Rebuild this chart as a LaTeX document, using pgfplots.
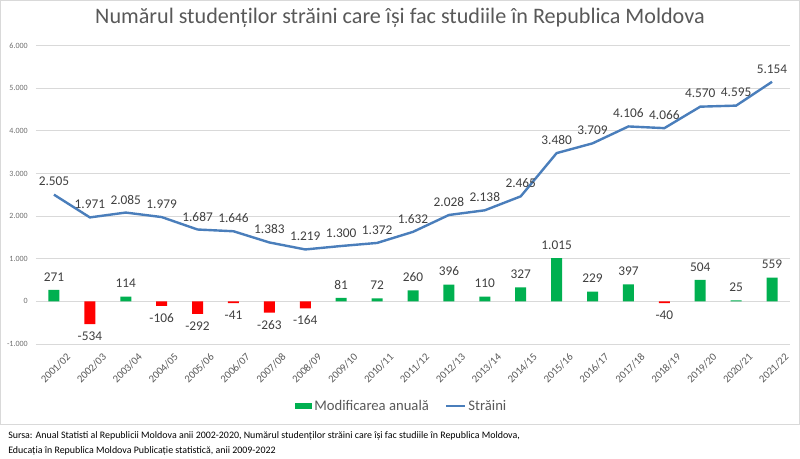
\documentclass[border=0pt]{standalone}
\usepackage{pgfplots}
\pgfplotsset{compat=1.18}
\usepackage{fontspec}
\setmainfont{Carlito}

\definecolor{barGreen}{RGB}{0,176,80}
\definecolor{barRed}{RGB}{255,0,0}
\definecolor{lineBlue}{RGB}{74,126,187}
\definecolor{gridGray}{RGB}{217,217,217}
\definecolor{frameGray}{RGB}{217,217,217}
\definecolor{textGray}{RGB}{89,89,89}
\definecolor{tickGray}{RGB}{110,110,110}
\definecolor{labelGray}{RGB}{64,64,64}

\begin{document}
\begin{tikzpicture}
% canvas and chart frame
\path[use as bounding box] (0,0) rectangle (600pt,343.5pt);
\fill[white] (0,0) rectangle (600pt,343.5pt);
\draw[frameGray, line width=0.75pt] (0.5pt,25.5pt) rectangle (599.5pt,343pt);

% title
\node[text=textGray, font=\fontsize{16.6}{19}\selectfont] at (300pt,330pt)
  {Numărul studenților străini care își fac studiile în Republica Moldova};

\begin{axis}[
  at={(27pt,85.5pt)}, anchor=south west,
  scale only axis, width=565.5pt, height=223.7pt,
  xmin=-0.5, xmax=20.5, ymin=-1000, ymax=6000,
  ytick={-1000,0,...,6000},
  xtick={0,...,20},
  xticklabels={2001/02,2002/03,2003/04,2004/05,2005/06,2006/07,2007/08,2008/09,2009/10,2010/11,2011/12,2012/13,2013/14,2014/15,2015/16,2016/17,2017/18,2018/19,2019/20,2020/21,2021/22},
  axis line style={draw=none},
  major tick length=0pt,
  ymajorgrids, grid style={gridGray, line width=0.75pt},
  /pgf/number format/assume math mode=true,
  /pgf/number format/1000 sep={.},
  yticklabel style={font=\fontsize{6}{7}\selectfont, text=tickGray, inner sep=0pt, xshift=-6pt},
  xticklabel style={font=\fontsize{8}{9}\selectfont, text=textGray, rotate=45, anchor=north east, inner sep=0pt, xshift=2pt, yshift=-10.5pt},
  legend style={at={(0.4854,0)}, anchor=center, yshift=-46.5pt, draw=none, fill=none,
    font=\fontsize{11}{13}\selectfont, text=textGray, legend columns=2,
    /tikz/every even column/.append style={column sep=10pt}},
  legend cell align=left,
]
% annual change, growth years
\addplot[ybar, bar width=8.25pt, bar shift=0pt, fill=barGreen, draw=none,
  nodes near coords, every node near coord/.append style={anchor=center, yshift=9.75pt, font=\fontsize{10}{12}\selectfont, text=labelGray},
  legend image code/.code={\fill[barGreen] (0pt,-2.5pt) rectangle (12.5pt,2.5pt);}]
  coordinates {(0,271)(2,114)(8,81)(9,72)(10,260)(11,396)(12,110)(13,327)(14,1015)(15,229)(16,397)(18,504)(19,25)(20,559)};
\addlegendentry{Modificarea anuală}
% annual change, decline years
\addplot[ybar, bar width=8.25pt, bar shift=0pt, fill=barRed, draw=none, forget plot,
  nodes near coords, every node near coord/.append style={anchor=center, yshift=-9pt, font=\fontsize{10}{12}\selectfont, text=labelGray}]
  coordinates {(1,-534)(3,-106)(4,-292)(5,-41)(6,-263)(7,-164)(17,-40)};
% total number of foreign students
\addplot[lineBlue, line width=1.8pt, mark=none,
  nodes near coords, every node near coord/.append style={anchor=center, yshift=9.75pt, font=\fontsize{10}{12}\selectfont, text=labelGray},
  legend image code/.code={\draw[lineBlue, line width=1.6pt] (0pt,0pt) -- (14pt,0pt);}]
  coordinates {(0,2505)(1,1971)(2,2085)(3,1979)(4,1687)(5,1646)(6,1383)(7,1219)(8,1300)(9,1372)(10,1632)(11,2028)(12,2138)(13,2465)(14,3480)(15,3709)(16,4106)(17,4066)(18,4570)(19,4595)(20,5154)};
\addlegendentry{Străini}
\end{axis}

% source note
\node[anchor=west, font=\fontsize{7.45}{9}\selectfont, inner sep=0pt] at (6pt,16.5pt)
  {Sursa: Anual Statisti al Republicii Moldova anii 2002-2020, Numărul studenților străini care își fac studiile în Republica Moldova,};
\node[anchor=west, font=\fontsize{7.45}{9}\selectfont, inner sep=0pt] at (6pt,5.5pt)
  {Educația în Republica Moldova Publicație statistică, anii 2009-2022};
\end{tikzpicture}
\end{document}
